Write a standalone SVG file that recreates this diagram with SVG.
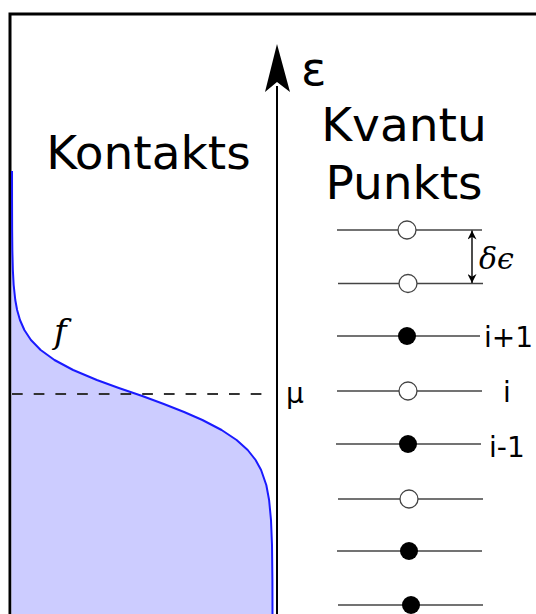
<svg xmlns="http://www.w3.org/2000/svg" width="536" height="614" viewBox="0 0 536 614">
<style>
.t{font-family:"DejaVu Sans",Verdana,sans-serif;fill:#000}
.lvl{stroke:#444;stroke-width:1.6;fill:none}
.open{fill:#fff;stroke:#444;stroke-width:1.3}
.full{fill:#000}
.it{font-family:"DejaVu Serif","Liberation Serif",serif;font-style:italic;fill:#000}
</style>
<defs>
<marker id="ah" viewBox="0 0 10 10" refX="10" refY="5" markerWidth="11" markerHeight="9" markerUnits="userSpaceOnUse" orient="auto">
<path d="M0,0 L10,5 L0,10 L3,5 Z" fill="#000"/>
</marker>
</defs>
<rect x="0" y="0" width="536" height="614" fill="#fff"/>
<rect id="frame" x="10" y="14" width="620" height="700" fill="none" stroke="#000" stroke-width="3"/>
<g id="contact">
<polygon fill="#ccccff" points="11.5,171 12.01,171 12.04,200 12.14,230 12.34,250 12.85,270 13.67,285 15.28,300 17.12,310 19.97,320 24.36,330 30.95,340 40.66,350 54.46,360 73.14,370 96.87,380 118.8,388 142.25,396 163.8,404 184.1,412 202.4,420 221.6,430 236.6,440 247.7,450 255.6,460 261.1,470 266.3,485 269.1,500 271,520 272,545 272.4,580 272.5,614 11.5,614"/>
<polyline fill="none" stroke="#1a1aff" stroke-width="2" stroke-linejoin="round" points="12.01,171 12.04,200 12.14,230 12.34,250 12.85,270 13.67,285 15.28,300 17.12,310 19.97,320 24.36,330 30.95,340 40.66,350 54.46,360 73.14,370 96.87,380 118.8,388 142.25,396 163.8,404 184.1,412 202.4,420 221.6,430 236.6,440 247.7,450 255.6,460 261.1,470 266.3,485 269.1,500 271,520 272,545 272.4,580 272.5,614"/>
<line x1="12" y1="394" x2="264" y2="394" stroke="#333" stroke-width="1.8" stroke-dasharray="10.7 11"/>
<text class="it" x="54" y="343" font-size="34" font-family="Liberation Serif">f</text>
<text class="t" x="148.5" y="169" font-size="47" text-anchor="middle">Kontakts</text>
</g>
<g id="axis">
<line x1="277" y1="614" x2="277" y2="86" stroke="#000" stroke-width="2"/>
<path d="M277,44 L290,92 L277,82 L265,92 Z" fill="#000"/>
<text class="t" x="301" y="85" font-size="47">ε</text>
<text class="t" x="286" y="403" font-size="28">μ</text>
</g>
<g id="dot-title">
<text class="t" x="404" y="141" font-size="47" text-anchor="middle">Kvantu</text>
<text class="t" x="404" y="199" font-size="47" text-anchor="middle">Punkts</text>
</g>
<g id="levels">
<line class="lvl" x1="337" y1="230" x2="482" y2="230"/><circle class="open" cx="407" cy="230" r="9"/>
<line class="lvl" x1="338" y1="283.5" x2="483" y2="283.5"/><circle class="open" cx="408" cy="283.5" r="9"/>
<line class="lvl" x1="337" y1="336" x2="480" y2="336"/><circle class="full" cx="407" cy="336" r="9"/>
<line class="lvl" x1="337" y1="391" x2="482" y2="391"/><circle class="open" cx="408" cy="391" r="9"/>
<line class="lvl" x1="336" y1="444" x2="481" y2="444"/><circle class="full" cx="408" cy="444" r="9"/>
<line class="lvl" x1="338" y1="499" x2="483" y2="499"/><circle class="open" cx="409" cy="499" r="9"/>
<line class="lvl" x1="337" y1="551" x2="482" y2="551"/><circle class="full" cx="409" cy="551" r="9"/>
<line class="lvl" x1="338" y1="605" x2="483" y2="605"/><circle class="full" cx="411" cy="605" r="9"/>
<text class="t" x="484" y="347" font-size="28">i+1</text>
<text class="t" x="503" y="402" font-size="28">i</text>
<text class="t" x="489" y="457" font-size="28">i-1</text>
</g>
<g id="connectors">
<line x1="472" y1="257" x2="472" y2="230.5" stroke="#000" stroke-width="1.4" marker-end="url(#ah)"/>
<line x1="472" y1="257" x2="472" y2="283" stroke="#000" stroke-width="1.4" marker-end="url(#ah)"/>
<text class="it" x="479" y="269" font-size="30">δϵ</text>
</g>
</svg>
